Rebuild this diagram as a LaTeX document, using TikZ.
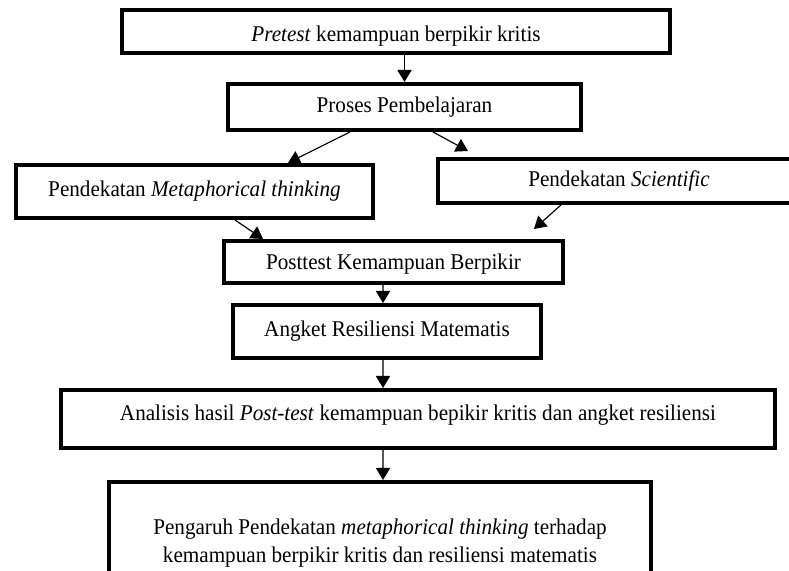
\documentclass[tikz,border=0pt]{standalone}
\usepackage{fontspec}
\setmainfont[FakeStretch=0.94]{Liberation Serif}
\usetikzlibrary{positioning,arrows.meta}
\tikzstyle{kotak}=[rectangle,draw,line width=2.4pt,inner sep=0pt,text centered,font=\fontsize{13.5}{16.8}\selectfont]
\tikzstyle{panah}=[->,>={Triangle[length=7.2pt,width=8.5pt]},line width=0.7pt]

\begin{document}
\begin{tikzpicture}[x=0.6pt,y=-0.6pt]
\useasboundingbox (0,0) rectangle (789,571);

\node[kotak,minimum width=328.8pt,minimum height=25.8pt,text height=15pt,text depth=3pt] (pretest) at (396,31.5) {\textit{Pretest} kemampuan berpikir kritis};
\node[kotak,minimum width=211.8pt,minimum height=27.6pt] (proses) at (404.5,107) {Proses Pembelajaran};
\node[kotak,minimum width=214.2pt,minimum height=31.8pt] (meta) at (194.5,191.5) {Pendekatan \textit{Metaphorical thinking}};
\node[kotak,minimum width=217.2pt,minimum height=26.4pt] (sci) at (619,181) {Pendekatan \textit{Scientific}};
\node[kotak,minimum width=203.4pt,minimum height=25.2pt,text height=12.6pt,text depth=3pt] (post) at (393.5,262) {Posttest Kemampuan Berpikir};
\node[kotak,minimum width=184.8pt,minimum height=31.8pt] (angket) at (387,331.5) {Angket Resiliensi Matematis};
\node[kotak,minimum width=428.4pt,minimum height=34.8pt,text height=9pt,text depth=7.2pt] (analisis) at (418,419) {Analisis hasil \textit{Post-test} kemampuan bepikir kritis dan angket resiliensi};
\node[kotak,minimum width=325.2pt,minimum height=73.2pt,align=center] (pengaruh) at (380,543) {Pengaruh Pendekatan \textit{metaphorical thinking} terhadap\\kemampuan berpikir kritis dan resiliensi matematis};

\draw[panah] (pretest.south -| proses.north) to (proses.north);
\draw[panah] ([xshift=-32.7pt]proses.south) to ([xshift=56.1pt]meta.north);
\draw[panah] ([xshift=17.1pt]proses.south) to ([xshift=19.2pt,yshift=3.6pt]sci.north west);
\draw[panah] ([xshift=24.3pt]meta.south) to ([xshift=24.6pt]post.north west);
\draw[panah] ([xshift=75pt]sci.south west) to ([xshift=-18.6pt,yshift=6pt]post.north east);
\draw[panah] ([xshift=-6.3pt]post.south) to ([xshift=-2.4pt]angket.north);
\draw[panah] ([xshift=-2.4pt]angket.south) to ([xshift=-21pt]analisis.north);
\draw[panah] ([xshift=-21pt]analisis.south) to ([xshift=1.8pt]pengaruh.north);

\end{tikzpicture}
\end{document}
